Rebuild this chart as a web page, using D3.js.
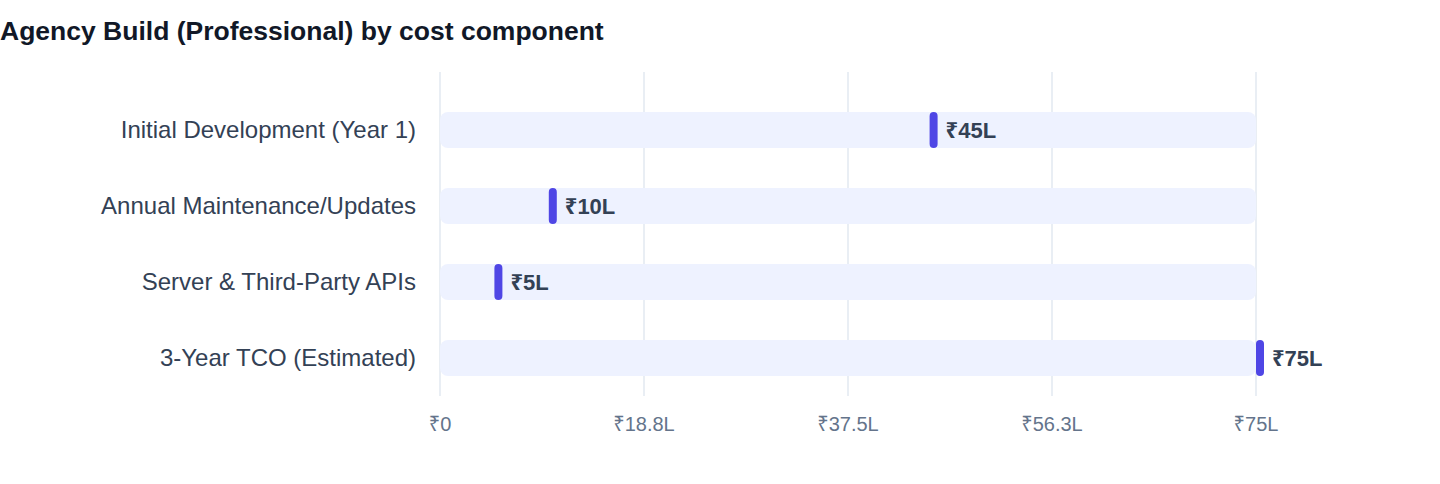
<!DOCTYPE html>
<html>
<head>
<meta charset="utf-8">
<script src="https://cdn.jsdelivr.net/npm/d3@7"></script>
<style>
  body { margin: 0; background: #fff; font-family: "Liberation Sans", Arial, "Noto Sans", sans-serif; }
</style>
</head>
<body>
<div id="chart"></div>
<script>
const categories = ["Initial Development (Year 1)", "Annual Maintenance/Updates", "Server & Third-Party APIs", "3-Year TCO (Estimated)"];
const values = [45, 10, 5, 75];
const tickValues = [0, 18.75, 37.5, 56.25, 75];
const tickLabels = ["₹0", "₹18.8L", "₹37.5L", "₹56.3L", "₹75L"];
const title = "Agency Build (Professional) by cost component";

const W = 1440, H = 484;
const svg = d3.select("#chart").append("svg").attr("width", W).attr("height", H);

svg.append("text").text(title)
  .attr("x", 0).attr("y", 40)
  .attr("font-size", 26.5).attr("font-weight", "bold").attr("fill", "#111827");

const x = d3.scaleLinear().domain([0, 75]).range([440, 1256]);
const y = d3.scaleBand().domain(categories).range([92, 396]).paddingInner(0.526).paddingOuter(0.263);

// grid
svg.append("g").selectAll("line").data(tickValues).enter()
  .append("line")
  .attr("x1", d => x(d)).attr("x2", d => x(d))
  .attr("y1", 72).attr("y2", 396)
  .attr("stroke", "#e2e8f0").attr("stroke-width", 1.5);

// tick labels
svg.append("g").selectAll("text").data(tickValues).enter()
  .append("text").text((d, i) => tickLabels[i])
  .attr("x", d => x(d)).attr("y", 431)
  .attr("text-anchor", "middle").attr("font-size", 20).attr("fill", "#64748b");

// category labels
svg.append("g").selectAll("text").data(categories).enter()
  .append("text").text(d => d)
  .attr("x", 416).attr("y", d => y(d) + y.bandwidth() / 2)
  .attr("dy", "0.35em").attr("text-anchor", "end")
  .attr("font-size", 24).attr("fill", "#334155");

// tracks
svg.append("g").selectAll("rect").data(categories).enter()
  .append("rect")
  .attr("x", x(0)).attr("width", x(75) - x(0))
  .attr("y", d => y(d)).attr("height", y.bandwidth())
  .attr("rx", 8).attr("fill", "#eef2ff");

// markers
svg.append("g").selectAll("rect").data(values).enter()
  .append("rect")
  .attr("x", d => x(d)).attr("width", 8)
  .attr("y", (d, i) => y(categories[i])).attr("height", y.bandwidth())
  .attr("rx", 4).attr("fill", "#4f46e5");

// value labels
svg.append("g").selectAll("text").data(values).enter()
  .append("text").text(d => "₹" + d + "L")
  .attr("x", d => x(d) + 16).attr("y", (d, i) => y(categories[i]) + y.bandwidth() / 2)
  .attr("dy", "0.35em").attr("font-size", 22).attr("font-weight", "bold").attr("fill", "#334155");
</script>
</body>
</html>
